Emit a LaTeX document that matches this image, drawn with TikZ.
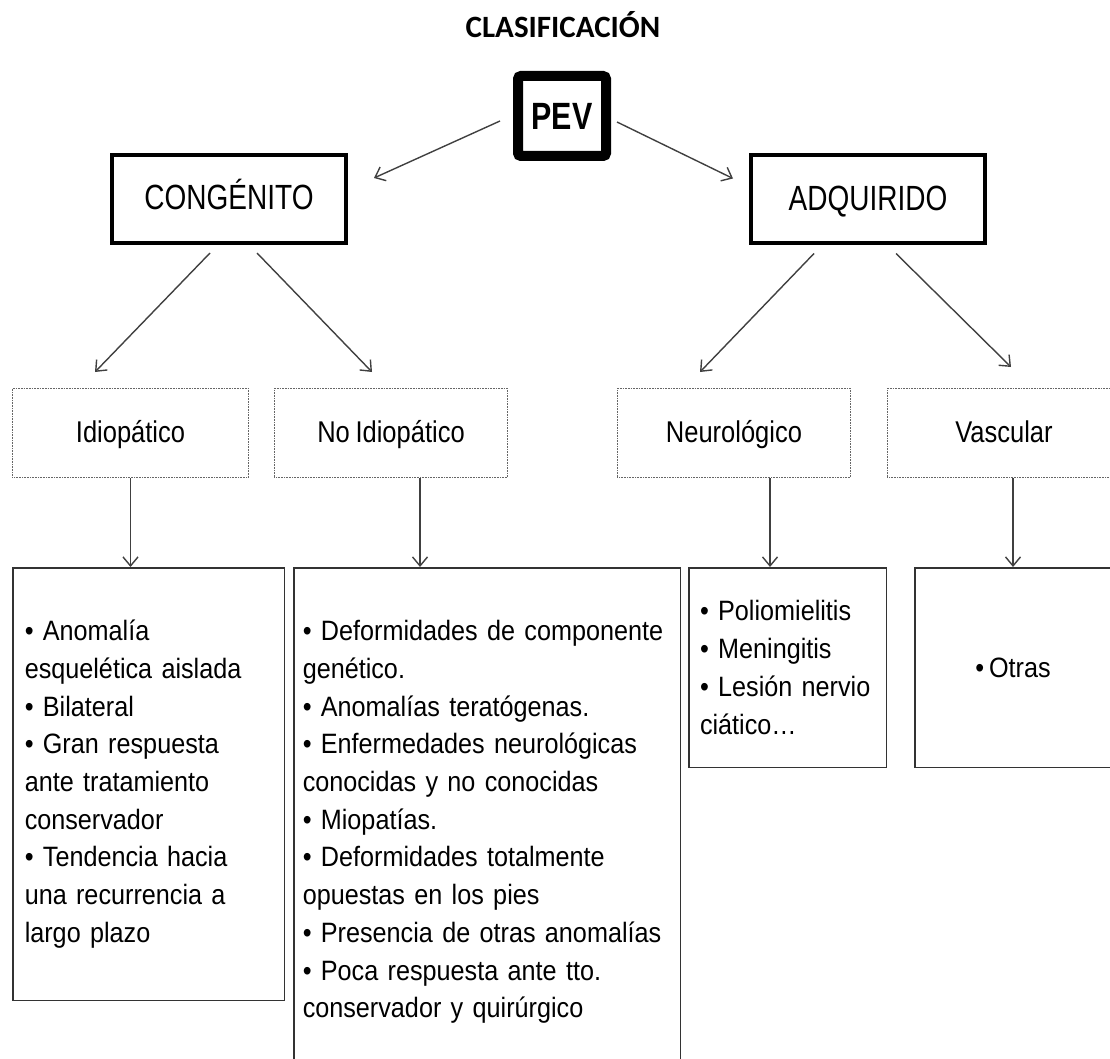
\documentclass[tikz,border=0pt]{standalone}
\usepackage{fontspec}
\usetikzlibrary{positioning, arrows.meta}
\newfontfamily\titlefont{Carlito}
\newfontfamily\bigfont[FakeStretch=0.8]{Liberation Sans}
\newfontfamily\midfont[FakeStretch=0.85, WordSpace=0.8]{Liberation Sans}
\newfontfamily\listfont[FakeStretch=0.9, WordSpace=0.7]{Liberation Sans}

\begin{document}
\begin{tikzpicture}[x=1pt, y=-1pt]
    \tikzstyle{every node}=[align=center, inner sep=0pt]
    \tikzset{
        n/.style={draw, minimum width=234pt, minimum height=88pt},
        root/.style={n, line width=10pt, rounded corners=3pt, minimum width=88pt, minimum height=80pt, font=\bigfont\bfseries\fontsize{38}{40}\selectfont, text height=28pt, text depth=0pt},
        group/.style={n, line width=4pt, font=\bigfont\fontsize{35}{40}\selectfont, text height=25pt, text depth=3pt},
        kind/.style={n, draw=black!60, line width=0.9pt, dash pattern=on 0.9pt off 0.7pt, minimum width=233.1pt, minimum height=89.1pt, font=\midfont\fontsize{30}{34}\selectfont, text height=19pt, text depth=0pt},
        list/.style={draw=black!80, line width=1.5pt, align=left, minimum height=199.5pt, font=\listfont\fontsize{28}{37.7}\selectfont},
        arr/.style={draw=black!75, line width=1.4pt, -{Straight Barb[length=9pt, width=15pt]}}
        }
    \useasboundingbox (0,0) rectangle (1110,1059);
    \clip (0,0) rectangle (1110,1059);

    %title
    \node (title) at (563,28) [font=\titlefont\bfseries\fontsize{31}{34}\selectfont, text height=20pt, text depth=0pt] {CLASIFICACIÓN};

    %root
    \node (pev) at (562,116) [root] {PEV};

    %groups
    \node (cong) at (229,199) [group] {CONGÉNITO};
    \node (adq) at (868,199.5) [group] {ADQUIRIDO};

    %kinds
    \node (idio) at (130.5,433) [kind, minimum width=236.1pt] {Idiopático};
    \node (noidio) [kind, right=25pt of idio] {No Idiopático};
    \node (neuro) at (734,433) [kind] {Neurológico};
    \node (vasc) [kind, right=36pt of neuro] {Vascular};

    %lists
    \node (list1) [list, anchor=north west, minimum height=432.5pt, inner xsep=12pt, text width=247.5pt] at ([yshift=-89pt]idio.south west) {• Anomalía\\esquelética aislada\\• Bilateral\\• Gran respuesta\\ante tratamiento\\conservador\\• Tendencia hacia\\una recurrencia a\\largo plazo};
    \node (list2) [list, anchor=north west, minimum height=508.5pt, inner xsep=9pt, text width=368.5pt] at (293,567) {• Deformidades de componente\\genético.\\• Anomalías teratógenas.\\• Enfermedades neurológicas\\conocidas y no conocidas\\• Miopatías.\\• Deformidades totalmente\\opuestas en los pies\\• Presencia de otras anomalías\\• Poca respuesta ante tto.\\conservador y quirúrgico};
    \node (list3) [list, anchor=north west, inner xsep=11.25pt, text width=175pt] at (688,567) {• Poliomielitis\\• Meningitis\\• Lesión nervio\\ciático…};
    \node (list4) [list, anchor=north west, align=center, minimum width=196.5pt] at (914,567) {• Otras};

    \draw[arr] ([shift={(-13,5)}]pev.west) -- ([shift={(26,25)}]cong.north east);
    \draw[arr] ([shift={(6,6)}]pev.east) -- ([shift={(-16,25)}]adq.north west);

    \draw[arr] ([shift={(-19,8)}]cong.south) -- ([shift={(-35.5,-16)}]idio.north);
    \draw[arr] ([shift={(28,8)}]cong.south) -- ([shift={(-19,-16)}]noidio.north);
    \draw[arr] ([shift={(-54,8)}]adq.south) -- ([shift={(-34,-16)}]neuro.north);
    \draw[arr] ([shift={(28,8)}]adq.south) -- ([shift={(7,-21)}]vasc.north);

    \draw[arr] (idio.south) -- (idio.south |- list1.north);
    \draw[arr] ([xshift=29pt]noidio.south) -- ([xshift=29pt]noidio.south |- list2.north);
    \draw[arr] ([xshift=36pt]neuro.south) -- ([xshift=36pt]neuro.south |- list3.north);
    \draw[arr] ([xshift=9pt]vasc.south) -- ([xshift=9pt]vasc.south |- list4.north);
\end{tikzpicture}
\end{document}
